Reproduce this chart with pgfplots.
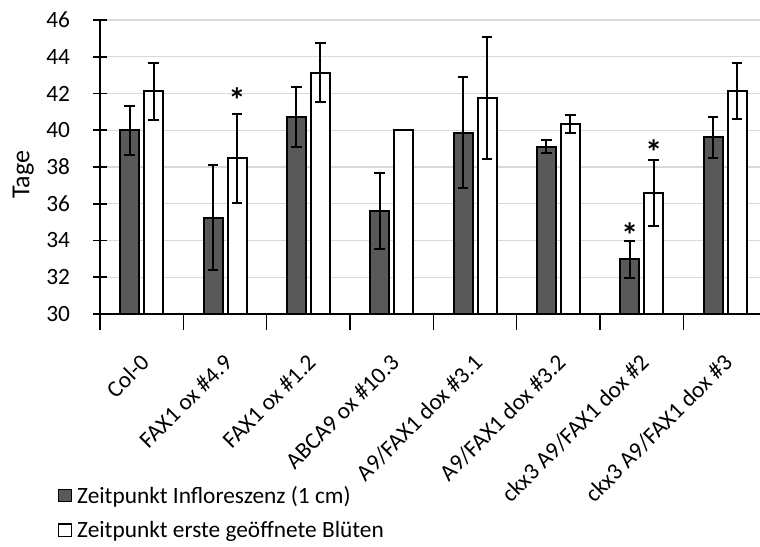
\documentclass[border=0pt]{standalone}
\usepackage{pgfplots}
\pgfplotsset{compat=1.18}
\usepackage{fontspec}
\setmainfont{Carlito}
\definecolor{darkbar}{HTML}{595959}
\definecolor{gridgray}{HTML}{D9D9D9}
\newcommand{\tickfont}{\fontsize{17.5}{21}\selectfont}
\newcommand{\starfont}{\fontsize{26}{28}\selectfont\bfseries}
\begin{document}
\begin{tikzpicture}
\begin{axis}[
  at={(0,0)}, anchor=south west,
  scale only axis,
  width=500pt, height=220.5pt,
  xmin=-0.5, xmax=7.5,
  ymin=30, ymax=46,
  ytick={30,32,...,46},
  xtick={0,...,7},
  xticklabels={Col-0, FAX1 ox \#4.9, FAX1 ox \#1.2, ABCA9 ox \#10.3, A9/FAX1 dox \#3.1, A9/FAX1 dox \#3.2, ckx3 A9/FAX1 dox \#2, ckx3 A9/FAX1 dox \#3},
  major x tick style={draw=none},
  minor xtick={-0.5,0.5,...,7.5},
  minor tick length=12pt,
  major tick length=10.5pt,
  xtick align=center, ytick align=center,
  tick style={black, line width=1.2pt},
  axis x line*=bottom, axis y line*=left,
  axis line style={black, line width=1.5pt, -},
  ymajorgrids, grid style={gridgray, line width=1.1pt},
  /pgf/number format/assume math mode=true,
  yticklabel style={font=\tickfont, anchor=east, inner sep=0pt, xshift=-17pt},
  xticklabel style={font=\tickfont, inner sep=0pt, xshift=2.6pt, yshift=-23pt, rotate=45, anchor=east},
  ylabel={Tage},
  every axis y label/.style={at={(axis description cs:-0.115,0.473)}, rotate=90, anchor=center, font=\fontsize{19.5}{23}\selectfont},
  ybar=3.75pt, bar width=14.25pt,
  legend style={at={(axis description cs:-0.063,-0.575)}, anchor=north west, draw=none, fill=none, inner sep=0pt, row sep=8pt, font=\tickfont, cells={anchor=west}, legend cell align=left},
  clip=false,
]
\addplot[draw=black, line width=1.5pt, fill=darkbar,
  legend image code/.code={\draw[black, line width=0.9pt, fill=darkbar] (0pt,-4.6pt) rectangle (9.5pt,4.6pt); \path (11pt,0pt);},
  error bars/.cd, y dir=both, y explicit,
  error bar style={line width=1.5pt, black},
  error mark options={mark size=4.1pt, line width=1.5pt, black, rotate=90}]
coordinates {
(0,40.00) +- (0,1.33)
(1,35.24) +- (0,2.87)
(2,40.74) +- (0,1.64)
(3,35.62) +- (0,2.06)
(4,39.87) +- (0,3.02)
(5,39.11) +- (0,0.35)
(6,32.97) +- (0,1.00)
(7,39.61) +- (0,1.12)
};
\addlegendentry{Zeitpunkt Infloreszenz (1 cm)}
\addplot[draw=black, line width=1.5pt, fill=white,
  legend image code/.code={\draw[black, line width=0.9pt, fill=white] (0pt,-4.6pt) rectangle (9.5pt,4.6pt); \path (11pt,0pt);},
  error bars/.cd, y dir=both, y explicit,
  error bar style={line width=1.5pt, black},
  error mark options={mark size=4.1pt, line width=1.5pt, black, rotate=90}]
coordinates {
(0,42.12) +- (0,1.55)
(1,38.47) +- (0,2.44)
(2,43.13) +- (0,1.60)
(3,40.00) +- (0,0.00)
(4,41.74) +- (0,3.31)
(5,40.36) +- (0,0.49)
(6,36.60) +- (0,1.80)
(7,42.12) +- (0,1.53)
};
\addlegendentry{Zeitpunkt erste geöffnete Blüten}
\node[anchor=north, inner sep=0pt, font=\starfont] at (axis cs:1.144,42.34) {*};
\node[anchor=north, inner sep=0pt, font=\starfont] at (axis cs:5.856,35.00) {*};
\node[anchor=north, inner sep=0pt, font=\starfont] at (axis cs:6.144,39.52) {*};
\end{axis}
\pgfresetboundingbox
\useasboundingbox (-75pt,-174pt) rectangle (495pt,235.5pt);
\end{tikzpicture}
\end{document}
